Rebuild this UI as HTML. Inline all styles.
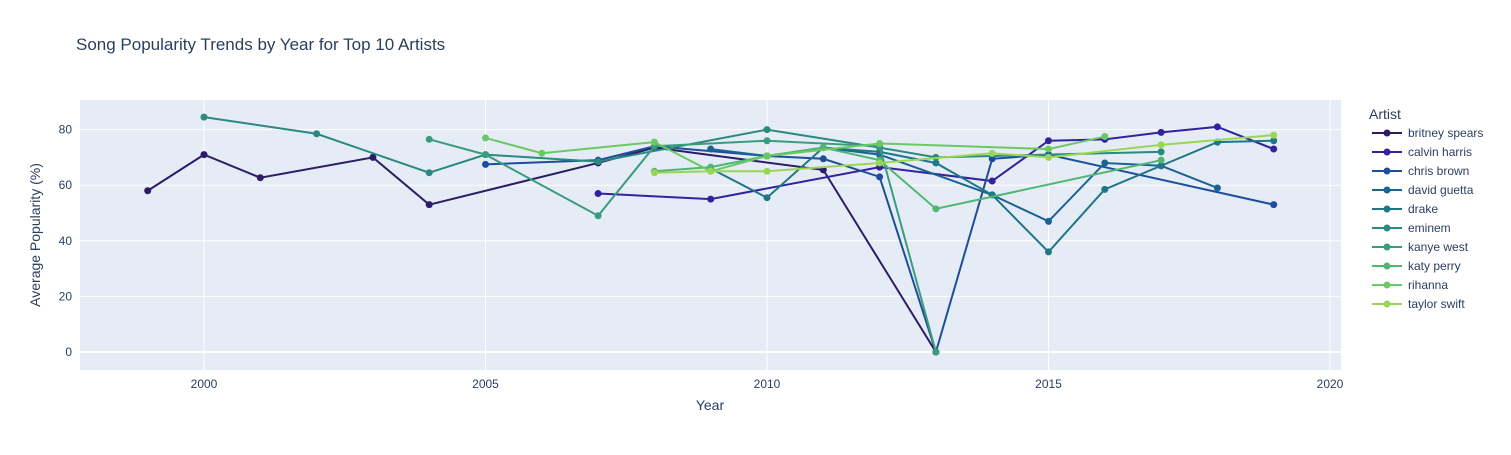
<!DOCTYPE html>
<html><head><meta charset="utf-8"><style>
body{margin:0;background:#fff;font-family:"Liberation Sans",sans-serif}
svg text{font-family:"Liberation Sans",sans-serif;fill:#2a3f5f}
</style></head><body>
<svg id="chart" width="1511" height="450" xmlns="http://www.w3.org/2000/svg">
<rect width="1511" height="450" fill="#fff"/>
<text x="76" y="50" font-size="17">Song Popularity Trends by Year for Top 10 Artists</text>
<rect x="80" y="100" width="1261" height="270" fill="#e5ecf6"/>
<g id="grid"></g><g id="series"></g>
<text x="710" y="410" font-size="14" text-anchor="middle">Year</text>
<text transform="translate(40,235) rotate(-90)" font-size="14" text-anchor="middle">Average Popularity (%)</text>
<text x="1369" y="119" font-size="14">Artist</text>
<g id="legend"></g>
</svg>
<script>
const artists=["britney spears","calvin harris","chris brown","david guetta","drake","eminem","kanye west","katy perry","rihanna","taylor swift"];
const colors=["#2c1c66","#3322a0","#1d4e9a","#1a6392","#1f7687","#2a8a80","#3a9c7e","#4fb673","#6bc963","#9ad656"];
const years=[
[1999,2000,2001,2003,2004,2007,2008,2011,2013],
[2007,2009,2012,2014,2015,2016,2017,2018,2019],
[2005,2007,2008,2010,2011,2012,2013,2014,2015,2019],
[2009,2010,2011,2012,2014,2015,2016,2017,2018],
[2009,2010,2011,2012,2013,2014,2015,2016,2017,2018,2019],
[2000,2002,2004,2005,2007,2010,2012,2013,2017],
[2004,2005,2007,2008,2010,2012,2013],
[2008,2009,2010,2011,2012,2013,2017],
[2005,2006,2008,2009,2010,2012,2015,2016],
[2008,2009,2010,2012,2014,2015,2017,2019]];
const values=[
[58,71,62.7,70,53,68,73.5,65.5,0],
[57,55,66.5,61.5,76,76.5,79,81,73],
[67.5,69,74,70.5,69.5,63,0,69.5,71,53],
[73,70.5,73.5,71,56.5,47,68,67,59],
[66,55.5,73.5,72,68,56.5,36,58.5,67,75.5,76],
[84.5,78.5,64.5,71,68.5,80,73.5,70,72],
[76.5,71,49,74,76,74,0],
[65,66.5,70.5,73.5,69,51.5,69],
[77,71.5,75.5,65,70.5,75,73,77.5],
[64.5,65,65,68,71.5,70,74.5,78]];
const xTicks=[2000,2005,2010,2015,2020];
const yTicks=[0,20,40,60,80];
const X=yr=>204+(yr-2000)*56.3;
const Y=v=>352-v*2.78;
const NS="http://www.w3.org/2000/svg";
function mk(t,a,p){const e=document.createElementNS(NS,t);for(const k in a)e.setAttribute(k,a[k]);p.appendChild(e);return e;}
const grid=document.getElementById('grid');
xTicks.forEach(t=>{
 const l=mk('line',{x1:X(t),x2:X(t),y1:100,y2:370,stroke:'#fff','stroke-width':1},grid);
 
 
 const tx=mk('text',{x:X(t),y:388,'font-size':12,'text-anchor':'middle'},grid);tx.textContent=t;
 
 
});
yTicks.forEach(t=>{
 const l=mk('line',{x1:80,x2:1341,y1:Y(t),y2:Y(t),stroke:'#fff','stroke-width':t===0?2:1},grid);
 
 
 const tx=mk('text',{x:72,y:Y(t)+4,'font-size':12,'text-anchor':'end'},grid);tx.textContent=t;
 
 
});
const sg=document.getElementById('series'),lg=document.getElementById('legend');
artists.forEach((a,i)=>{
 const g=mk('g',{},sg);
 
 
 const pts=years[i].map((y,j)=>X(y)+','+Y(values[i][j])).join(' ');
 const pl=mk('polyline',{points:pts,fill:'none',stroke:colors[i],'stroke-width':2},g);
 
 
 years[i].forEach((y,j)=>{
  const c=mk('circle',{cx:X(y),cy:Y(values[i][j]),r:3.5,fill:colors[i]},g);
  
  
 });
 const ly=133+i*19;
 const le=mk('g',{},lg);
 
 
 mk('line',{x1:1372,x2:1402,y1:ly,y2:ly,stroke:colors[i],'stroke-width':2},le);
 mk('circle',{cx:1387,cy:ly,r:3.5,fill:colors[i]},le);
 const t=mk('text',{x:1408,y:ly+4,'font-size':12},le);t.textContent=a;
});
</script>
</body></html>
